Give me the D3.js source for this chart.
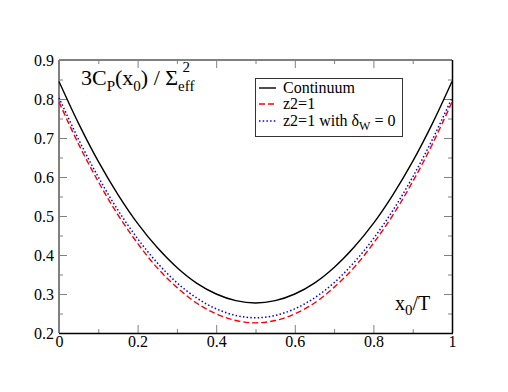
<!DOCTYPE html>
<html>
<head>
<meta charset="utf-8">
<script src="https://cdn.jsdelivr.net/npm/d3@7"></script>
<style>
  body { margin: 0; background: #fff; }
  svg text { font-family: "Liberation Serif", "Times New Roman", Times, serif !important; }
</style>
</head>
<body>
<svg width="508" height="392"></svg>
<script>
// data
var xs = [0, 0.05, 0.1, 0.15, 0.2, 0.25, 0.3, 0.35, 0.4, 0.45, 0.5,
          0.55, 0.6, 0.65, 0.7, 0.75, 0.8, 0.85, 0.9, 0.95, 1];
var continuum = [0.845, 0.737, 0.640, 0.555, 0.481, 0.419, 0.368, 0.328, 0.300, 0.283, 0.277,
                 0.283, 0.300, 0.328, 0.368, 0.419, 0.481, 0.555, 0.640, 0.737, 0.845];
var z2 = [0.792, 0.684, 0.588, 0.503, 0.430, 0.367, 0.317, 0.277, 0.249, 0.232, 0.226,
          0.232, 0.249, 0.277, 0.317, 0.367, 0.430, 0.503, 0.588, 0.684, 0.792];
var z2dw = [0.803, 0.696, 0.600, 0.515, 0.442, 0.380, 0.329, 0.290, 0.262, 0.245, 0.239,
            0.245, 0.262, 0.290, 0.329, 0.380, 0.442, 0.515, 0.600, 0.696, 0.803];
var xTicks = [0, 0.2, 0.4, 0.6, 0.8, 1];
var xMinor = [0.1, 0.3, 0.5, 0.7, 0.9];
var yTicks = [0.2, 0.3, 0.4, 0.5, 0.6, 0.7, 0.8, 0.9];
var yMinor = [0.25, 0.35, 0.45, 0.55, 0.65, 0.75, 0.85];

var svg = d3.select("svg");
var pLeft = 59, pRight = 452, pTop = 60, pBottom = 333;
var serif = "'Liberation Serif', 'Times New Roman', Times, serif";

var x = d3.scaleLinear().domain([0, 1]).range([pLeft, pRight]);
var y = d3.scaleLinear().domain([0.2, 0.9]).range([pBottom, pTop]);

var tickColor = "#808080";

// axes (ticks point inward)
function styleAxis(g) {
  g.attr("font-family", serif);
  g.select(".domain").remove();
  g.selectAll(".tick line").attr("stroke", tickColor);
  g.selectAll("text").attr("font-size", 16).attr("fill", "#000")
    .style("font-family", serif);
}

svg.append("g").attr("transform", "translate(0," + pBottom + ")")
  .call(d3.axisBottom(x).tickValues(xTicks).tickSize(-8).tickPadding(3).tickFormat(d3.format("~g")))
  .call(styleAxis);
svg.append("g").attr("transform", "translate(0," + pBottom + ")")
  .call(d3.axisBottom(x).tickValues(xMinor).tickSize(-4).tickFormat(""))
  .call(styleAxis);
svg.append("g").attr("transform", "translate(0," + pTop + ")")
  .call(d3.axisTop(x).tickValues(xTicks).tickSize(-8).tickFormat(""))
  .call(styleAxis);
svg.append("g").attr("transform", "translate(0," + pTop + ")")
  .call(d3.axisTop(x).tickValues(xMinor).tickSize(-4).tickFormat(""))
  .call(styleAxis);

svg.append("g").attr("transform", "translate(" + pLeft + ",0)")
  .call(d3.axisLeft(y).tickValues(yTicks).tickSize(-8).tickPadding(5).tickFormat(d3.format(".1f")))
  .call(styleAxis);
svg.append("g").attr("transform", "translate(" + pLeft + ",0)")
  .call(d3.axisLeft(y).tickValues(yMinor).tickSize(-4).tickFormat(""))
  .call(styleAxis);
svg.append("g").attr("transform", "translate(" + pRight + ",0)")
  .call(d3.axisRight(y).tickValues(yTicks).tickSize(-8).tickFormat(""))
  .call(styleAxis);
svg.append("g").attr("transform", "translate(" + pRight + ",0)")
  .call(d3.axisRight(y).tickValues(yMinor).tickSize(-4).tickFormat(""))
  .call(styleAxis);

// frame
svg.append("line").attr("x1", pLeft).attr("x2", pLeft).attr("y1", pTop).attr("y2", pBottom)
  .attr("stroke", tickColor).attr("stroke-width", 2);
svg.append("line").attr("x1", pLeft).attr("x2", pRight).attr("y1", pTop).attr("y2", pTop)
  .attr("stroke", tickColor).attr("stroke-width", 2);
svg.append("line").attr("x1", pLeft).attr("x2", pRight + 1).attr("y1", pBottom + 0.5).attr("y2", pBottom + 0.5)
  .attr("stroke", "#000").attr("stroke-width", 1.5);
svg.append("line").attr("x1", pRight + 0.5).attr("x2", pRight + 0.5).attr("y1", pTop).attr("y2", pBottom)
  .attr("stroke", "#000").attr("stroke-width", 1.5);

// curves
var series = [
  { values: continuum, color: "#000", dash: null, width: 1.4 },
  { values: z2, color: "#ff0000", dash: "6,3", width: 1.4 },
  { values: z2dw, color: "#0000ff", dash: "1.5,2.2", width: 1.5 }
];
var line = d3.line()
  .x(function (d, i) { return x(xs[i]); })
  .y(function (d) { return y(d); })
  .curve(d3.curveCatmullRom);

svg.append("g").selectAll("path")
  .data(series.slice().reverse())
  .enter().append("path")
  .attr("d", function (d) { return line(d.values); })
  .attr("fill", "none")
  .attr("stroke", function (d) { return d.color; })
  .attr("stroke-width", function (d) { return d.width; })
  .attr("stroke-dasharray", function (d) { return d.dash; });

// title inside plot
var title = svg.append("text").attr("x", 81).attr("y", 85).attr("font-size", 22).style("font-family", serif);
title.append("tspan").text("3C");
title.append("tspan").attr("font-size", 15).attr("dy", 6).text("P");
title.append("tspan").attr("dy", -6).text("(x");
title.append("tspan").attr("font-size", 15).attr("dy", 6).text("0");
title.append("tspan").attr("dy", -6).text(") / \u03A3");
title.append("tspan").attr("font-size", 15).attr("dy", 6).text("eff");
title.append("tspan").attr("font-size", 15).attr("dy", -19).attr("dx", -12).text("2");

// x axis label inside plot
var xl = svg.append("text").attr("x", 395).attr("y", 310).attr("font-size", 20).style("font-family", serif);
xl.append("tspan").text("x");
xl.append("tspan").attr("font-size", 15).attr("dy", 5).text("0");
xl.append("tspan").attr("dy", -5).text("/T");

// legend
var lg = svg.append("g");
lg.append("rect").attr("x", 255.5).attr("y", 78.5).attr("width", 147).attr("height", 58)
  .attr("fill", "#fff").attr("stroke", "#333").attr("stroke-width", 1);
var legendNames = ["Continuum", "z2=1", "z2=1 with \u03B4"];
var rowY = [88, 104, 121];
legendNames.forEach(function (name, i) {
  var s = series[i];
  lg.append("line").attr("x1", 259).attr("x2", 276).attr("y1", rowY[i]).attr("y2", rowY[i])
    .attr("stroke", s.color).attr("stroke-width", s.width).attr("stroke-dasharray", s.dash);
  var t = lg.append("text").attr("x", 283).attr("y", rowY[i] + 5).attr("font-size", 16)
    .style("font-family", serif).text(name);
  if (i === 2) {
    t.append("tspan").attr("font-size", 12).attr("dy", 4).text("W");
    t.append("tspan").attr("dy", -4).text(" = 0");
  }
});
</script>
</body>
</html>
